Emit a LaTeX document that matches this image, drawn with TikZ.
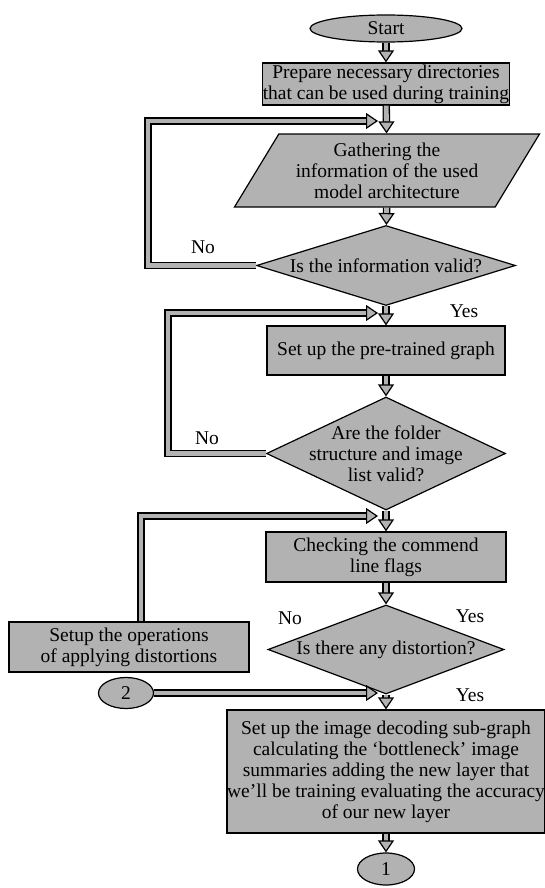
\documentclass[tikz,border=0pt]{standalone}
\usepackage{fontspec}
\setmainfont{Liberation Serif}
\usetikzlibrary{shapes.geometric,arrows.meta}

\begin{document}
\begin{tikzpicture}[x=1pt,y=-1pt,
        font=\fontsize{19.5}{21}\selectfont,
        box/.style={draw, line width=1.2pt, fill=gray!60, inner sep=0pt, align=center},
        pipe/.style={draw=black, line width=1.3pt, double=gray!60, double distance=4.8pt,
            -{Triangle[width=16pt, length=12pt, fill=gray!60, line width=1.2pt]}}]
        \useasboundingbox (0,0) rectangle (544,888);
        % blocks
            \node[box, ellipse, minimum width=152pt, minimum height=27pt] (start) at (386,28.5) {Start};
            \node[box, minimum width=238pt, minimum height=42pt] (prepare) at (386,84) {Prepare necessary directories\\that can be used during training};
            \node[box, trapezium, trapezium left angle=51.5, trapezium right angle=128.5, trapezium stretches body,
                minimum width=305pt, minimum height=73pt] (gather) at (387,170.5) {Gathering the\\information of the used\\model architecture};
            \node[box, diamond, aspect=3.24, minimum width=259pt, minimum height=80pt] (valid) at (386,265.5) {Is the information valid?};
            \node[box, minimum width=238pt, minimum height=49pt] (pretrained) at (386,350.5) {Set up the pre-trained graph};
            \node[box, diamond, aspect=2.1, inner sep=-14pt, minimum width=239pt, minimum height=113pt] (folder) at (386,453.5) {Are the folder\\structure and image\\list valid?};
            \node[box, minimum width=240pt, minimum height=50pt] (checking) at (386,557) {Checking the commend\\line flags};
            \node[box, diamond, aspect=2.65, minimum width=236pt, minimum height=89pt] (distort) at (386,649.5) {Is there any distortion?};
            \node[box, minimum width=240pt, minimum height=50pt] (setup) at (129,647) {Setup the operations\\of applying distortions};
            \node[box, ellipse, minimum width=55pt, minimum height=31pt] (two) at (126,693) {2};
            \node[box, minimum width=312pt, minimum height=123pt] (decode) at (386,771.5) {Set up the image decoding sub-graph\\calculating the ‘bottleneck’ image\\summaries adding the new layer that\\we’ll be training evaluating the accuracy\\of our new layer};
            \node[box, ellipse, minimum width=57pt, minimum height=32pt] (one) at (386,869) {1};
        % main flow
            \foreach \a/\b in {start/prepare,prepare/gather,gather/valid,valid/pretrained,pretrained/folder,folder/checking,checking/distort,distort/decode,decode/one}{
                \draw[pipe] (\a) -- (\b);
            }
        % loops back
            \coordinate (j1) at (378,121);
            \coordinate (j2) at (378,313);
            \coordinate (j3) at (378,516);
            \coordinate (j4) at (378,693);
            \draw[pipe] (valid.west) -- ++(-108,0) |- (j1);
            \draw[pipe] (folder.west) -- ++(-98,0) |- (j2);
            \draw[pipe] ([xshift=12pt]setup.north) |- (j3);
            \draw[pipe] (two) -- (j4);
        % labels
            \node (no1) at (203,247) {No};
            \node (yes1) at (464,311) {Yes};
            \node (no2) at (207,438) {No};
            \node (no3) at (290,618) {No};
            \node (yes3) at (470,616) {Yes};
            \node (yes4) at (470,695) {Yes};
\end{tikzpicture}
\end{document}
